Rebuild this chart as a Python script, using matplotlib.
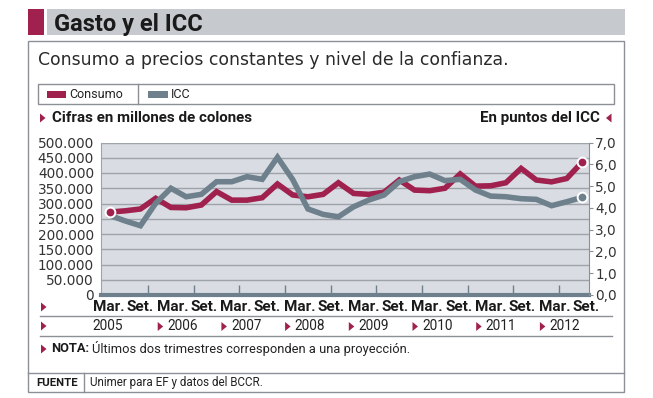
import matplotlib.pyplot as plt
from matplotlib.patches import Rectangle, Polygon

# datos trimestrales 2005-2012
anios = ['2005', '2006', '2007', '2008', '2009', '2010', '2011', '2012']
meses = ['Mar.', 'Set.']
consumo = [272000, 276000, 282000, 317000, 287000, 286000, 295000, 339000,
           311000, 311000, 319000, 364000, 328000, 322000, 330000, 368000,
           333000, 330000, 337000, 377000, 344000, 342000, 350000, 397000,
           357000, 358000, 368000, 415000, 377000, 371000, 382000, 435000]
icc = [3.65, 3.40, 3.18, 4.21, 4.90, 4.51, 4.62, 5.20,
       5.20, 5.43, 5.31, 6.32, 5.30, 3.95, 3.70, 3.59,
       4.05, 4.36, 4.59, 5.20, 5.43, 5.55, 5.25, 5.31,
       4.82, 4.54, 4.51, 4.42, 4.39, 4.10, 4.28, 4.48]
ticks_izq = list(range(0, 500001, 50000))
ticks_der = list(range(0, 8))

W, H = 653, 398
CRIMSON = '#a0214e'
SLATE = '#6d808c'
GRIS = '#8c9096'
SANS = ['Roboto', 'DejaVu Sans']

fig = plt.figure(figsize=(W / 100, H / 100), dpi=100)
bg = fig.add_axes([0, 0, 1, 1])
bg.set_xlim(0, W)
bg.set_ylim(H, 0)
bg.axis('off')


def triangulo(x, y, izq=False):
    if izq:
        pts = [(x + 5.5, y - 4.5), (x + 5.5, y + 4.5), (x, y)]
    else:
        pts = [(x, y - 4.5), (x, y + 4.5), (x + 5.5, y)]
    bg.add_patch(Polygon(pts, closed=True, fc=CRIMSON, ec='none'))


# cabecera
bg.add_patch(Rectangle((28, 8.5), 597, 26.5, fc='#c6cace', ec='none'))
bg.add_patch(Rectangle((28, 8.5), 15.5, 26.5, fc=CRIMSON, ec='none'))
bg.add_patch(Rectangle((43.5, 8.5), 3.2, 26.5, fc='white', ec='none'))
bg.text(53.5, 30.5, 'Gasto y el ICC', family=SANS, fontsize=17, weight='bold',
        color='#1a1a1a', va='baseline')

# recuadro principal
bg.add_patch(Rectangle((28, 41), 596, 351, fill=False, ec=GRIS, lw=1))
bg.text(38, 65, 'Consumo a precios constantes y nivel de la confianza.',
        fontsize=12.4, color='#2a2a2a', va='baseline')

# leyenda
bg.add_patch(Rectangle((38, 83.5), 576, 20.5, fill=False, ec=GRIS, lw=1))
bg.plot([137.5, 137.5], [83.5, 104], color=GRIS, lw=1)
bg.add_patch(Rectangle((46.5, 91), 19.5, 6.5, fc=CRIMSON, ec='none'))
bg.text(69.5, 94, 'Consumo', family=SANS, fontsize=9, color='#222222', va='center')
bg.add_patch(Rectangle((148, 91), 19.5, 6.5, fc=SLATE, ec='none'))
bg.text(170.5, 94, 'ICC', family=SANS, fontsize=9, color='#222222', va='center')

triangulo(40, 118)
bg.text(51.5, 118, 'Cifras en millones de colones', family=SANS, fontsize=10.9,
        weight='bold', color='#1a1a1a', va='center')
bg.text(600, 118, 'En puntos del ICC', family=SANS, fontsize=10.9,
        weight='bold', color='#1a1a1a', va='center', ha='right')
triangulo(606, 118, izq=True)

# grafico
ax = fig.add_axes([101 / W, (H - 295) / H, 488 / W, 152.5 / H])
ax.set_facecolor('#d9dde3')
x = list(range(len(consumo)))
ax.set_xlim(-0.59, len(consumo) - 1 + 0.46)
ax.set_ylim(0, 500000)
ax.set_yticks(ticks_izq)
ax.set_yticklabels([f'{v:,}'.replace(',', '.') for v in ticks_izq],
                   fontsize=9.8, color='#333333')
ax.tick_params(axis='y', length=0, pad=5)
ax.set_xticks([2.5 + 3 * k for k in range(10)])
ax.set_xticklabels([])
ax.tick_params(axis='x', direction='in', length=7, width=1, color=SLATE)
ax.grid(axis='y', color='#9ea3a9', lw=1)
ax.set_axisbelow(True)
for s in ['top', 'right']:
    ax.spines[s].set_visible(False)
ax.spines['left'].set_color('#9ea3a9')
ax.spines['bottom'].set_color(SLATE)
ax.spines['bottom'].set_linewidth(3)

ax.plot(x, consumo, color=CRIMSON, lw=4, solid_joinstyle='miter', zorder=3)

ax2 = ax.twinx()
ax2.set_ylim(0, 7)
ax2.set_yticks(ticks_der)
ax2.set_yticklabels([f'{v:.1f}'.replace('.', ',') for v in ticks_der],
                    fontsize=9.8, color='#333333')
ax2.tick_params(axis='y', length=3, width=0.8, color=GRIS, pad=1.5)
for s in ['top', 'left', 'bottom']:
    ax2.spines[s].set_visible(False)
ax2.spines['right'].set_color(GRIS)
ax2.plot(x, icc, color=SLATE, lw=4, solid_joinstyle='miter', zorder=3)
ax2.plot(x[-1], icc[-1], 'o', ms=7, mfc=SLATE, mec='white', mew=1.4, zorder=4,
         clip_on=False)
escala = 7 / 500000
ax2.plot([x[0], x[-1]], [consumo[0] * escala, consumo[-1] * escala], 'o', ms=7,
         mfc=CRIMSON, mec='white', mew=1.4, zorder=5, clip_on=False)

# etiquetas de tiempo
paso = 63.7
triangulo(41, 307)
for i in range(len(anios)):
    for j, m in enumerate(meses):
        bg.text(93 + paso * i + 33.5 * j, 307, m, family=SANS, fontsize=11,
                weight='bold', color='#1a1a1a', va='center')
bg.plot([40, 612], [315.7, 315.7], color=GRIS, lw=1)

triangulo(41, 326)
for i, a in enumerate(anios):
    xa = 92 + paso * i
    if i > 0:
        triangulo(xa + 2, 326.5)
        xa += 11.5
    bg.text(xa, 326, a, family=SANS, fontsize=9.8, color='#222222', va='center')
bg.plot([40, 612], [335.7, 335.7], color=GRIS, lw=1)

triangulo(41, 349)
bg.text(51.5, 349, 'NOTA:', family=SANS, fontsize=9.3, weight='bold',
        color='#1a1a1a', va='center')
bg.text(91.5, 349, 'Últimos dos trimestres corresponden a una proyección.',
        family=SANS, fontsize=9.3, color='#222222', va='center')

# fuente
bg.plot([28, 624], [372.5, 372.5], color=GRIS, lw=1)
bg.plot([83.5, 83.5], [372.5, 392], color=GRIS, lw=1)
bg.text(36, 382.5, 'FUENTE', family=SANS, fontsize=8.2, weight='bold',
        color='#1a1a1a', va='center')
bg.text(89.5, 382.5, 'Unimer para EF y datos del BCCR.', family=SANS,
        fontsize=8.4, color='#222222', va='center')

fig.savefig('out.png', dpi=100)
